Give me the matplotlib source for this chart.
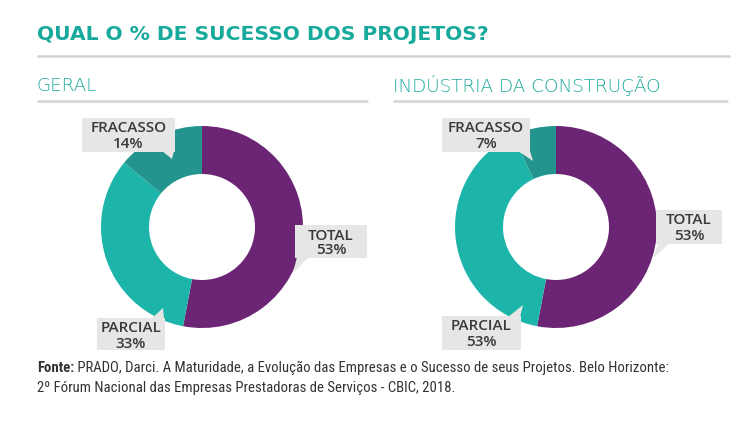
import matplotlib
matplotlib.use("Agg")
import matplotlib.pyplot as plt
from matplotlib.patches import Rectangle, Polygon
from matplotlib import font_manager

# ---------------- data ----------------
title = "QUAL O % DE SUCESSO DOS PROJETOS?"
panel_titles = ["GERAL", "INDÚSTRIA DA CONSTRUÇÃO"]
categories = ["TOTAL", "PARCIAL", "FRACASSO"]
geral_values = [53, 33, 14]
construcao_values = [53, 40, 7]          # shares as drawn in the ring
geral_labels = ["53%", "33%", "14%"]
construcao_labels = ["53%", "53%", "7%"]  # as printed in the source
colors = ["#6B2574", "#1DB5AA", "#23948E"]
source_bold = "Fonte:"
source_line1 = " PRADO, Darci. A Maturidade, a Evolução das Empresas e o Sucesso de seus Projetos. Belo Horizonte:"
source_line2 = "2º Fórum Nacional das Empresas Prestadoras de Serviços - CBIC, 2018."

# ---------------- fonts ----------------
avail = {f.name for f in font_manager.fontManager.ttflist}
def pick(*names):
    for n in names:
        if n in avail:
            return n
    return "DejaVu Sans"
MAIN = pick("Open Sans", "Lato", "Noto Sans")
NARROW = pick("Liberation Sans Narrow", "Roboto Condensed", "Open Sans Condensed", "Liberation Sans")

W, H = 751, 430
fig = plt.figure(figsize=(W / 100, H / 100), dpi=100)
ax = fig.add_axes([0, 0, 1, 1])

def Y(y):
    return H - y

TEAL_TXT = "#17A99B"
LINE_C = "#D2D2D9"
BOX_C = "#E6E6E6"
TXT_C = "#3A3A3A"

# title + rules
ax.text(37, Y(35), title, fontsize=14.6, fontweight="bold", color=TEAL_TXT,
        family="DejaVu Sans", va="center", ha="left")
ax.plot([37, 730], [Y(56), Y(56)], color=LINE_C, lw=1.8, solid_capstyle="butt")

panels = [
    dict(values=geral_values, labels=geral_labels, cx=202, cy=227, tx=37,
         line=(37, 368),
         boxes=[  # TOTAL, PARCIAL, FRACASSO : (x0, y0, x1, y1), pointer
             ((295, 225, 367, 258), [(297, 257), (309, 257), (293, 273)]),
             ((97, 318, 165, 350), [(151, 319), (164, 319), (163, 308)]),
             ((82, 118, 175, 152), [(162, 151), (174, 151), (172, 159)]),
         ]),
    dict(values=construcao_values, labels=construcao_labels, cx=556, cy=227, tx=393,
         line=(393, 728),
         boxes=[
             ((656, 210, 722, 244), [(658, 243), (670, 243), (653, 258)]),
             ((442, 316, 521, 350), [(508, 317), (520, 317), (523, 305)]),
             ((442, 118, 530, 152), [(518, 151), (530, 151), (533, 161)]),
         ]),
]

for i, p in enumerate(panels):
    ax.text(p["tx"], Y(86), panel_titles[i], fontsize=13.2,
            fontweight="light", color="#1FAA9F", family="DejaVu Sans",
            va="center", ha="left")
    ax.plot(list(p["line"]), [Y(101), Y(101)], color=LINE_C, lw=1.8, solid_capstyle="butt")
    ax.pie(p["values"], colors=colors, startangle=90, counterclock=False,
           center=(p["cx"], Y(p["cy"])), radius=101,
           wedgeprops=dict(width=48, edgecolor="none", linewidth=0))
    for cat, lab, (box, ptr) in zip(categories, p["labels"], p["boxes"]):
        x0, y0, x1, y1 = box
        ax.add_patch(Rectangle((x0, Y(y1)), x1 - x0, y1 - y0, facecolor=BOX_C,
                               edgecolor="none", zorder=5))
        ax.add_patch(Polygon([(a, Y(b)) for a, b in ptr], closed=True,
                             facecolor=BOX_C, edgecolor="none", zorder=5))
        xc = (x0 + x1) / 2
        ax.text(xc, Y(y0 + 10.5), cat, fontsize=11, fontweight="semibold",
                color=TXT_C, family=MAIN, ha="center", va="center", zorder=6)
        ax.text(xc, Y(y0 + 25.5), lab, fontsize=11, fontweight="semibold",
                color=TXT_C, family=MAIN, ha="center", va="center", zorder=6)

# source
t = ax.text(37, Y(368), source_bold, fontsize=10.6, fontweight="bold", color="#333333",
            family=NARROW, va="center", ha="left")
ax.annotate(source_line1, xy=(1, 0.5), xycoords=t, fontsize=10.6, color="#333333",
            family=NARROW, va="center", ha="left")
ax.text(37, Y(388), source_line2, fontsize=10.6, color="#333333",
        family=NARROW, va="center", ha="left")

ax.set_xlim(0, W)
ax.set_ylim(0, H)
ax.set_aspect("auto")
ax.axis("off")

fig.savefig("out.png", dpi=100, facecolor="white")
